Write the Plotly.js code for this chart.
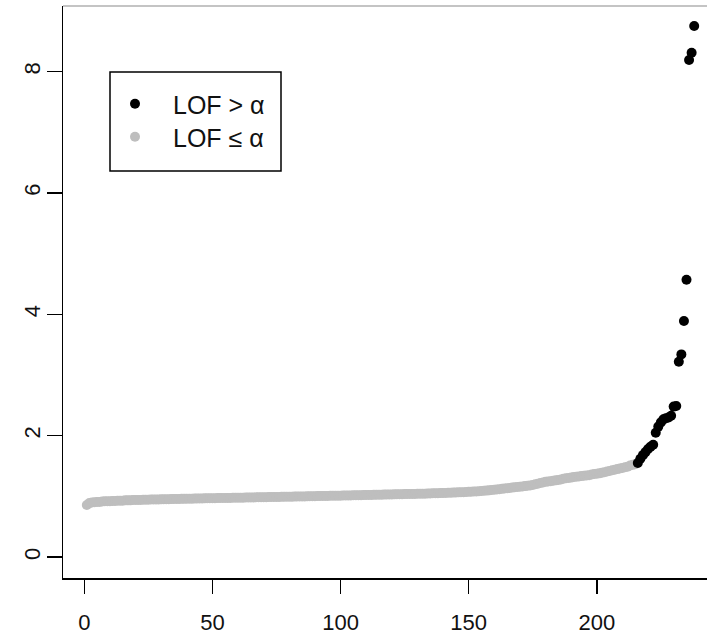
<!DOCTYPE html>
<html><head><meta charset="utf-8">
<script src="https://cdn.plot.ly/plotly-3.0.1.min.js"></script>
<style>html,body{margin:0;padding:0;background:#fff}</style>
</head><body>
<div id="chart" style="width:707px;height:635px"></div>
<script>
// LOF values (sorted), points with LOF <= alpha (gray) and LOF > alpha (black)
const inlierLOF = [
 0.86,0.89,0.90,0.905,0.91,0.91,0.915,0.92,0.92,0.92,
 0.925,0.925,0.93,0.93,0.93,0.935,0.935,0.935,0.94,0.94,
 0.94,0.942,0.944,0.945,0.946,0.948,0.95,0.95,0.951,0.952,
 0.953,0.954,0.955,0.956,0.957,0.958,0.959,0.96,0.96,0.961,
 0.962,0.963,0.964,0.965,0.966,0.967,0.968,0.969,0.97,0.97,
 0.971,0.972,0.973,0.974,0.975,0.975,0.976,0.977,0.978,0.979,
 0.98,0.98,0.981,0.982,0.983,0.984,0.985,0.985,0.986,0.987,
 0.988,0.989,0.99,0.99,0.991,0.992,0.993,0.994,0.995,0.995,
 0.996,0.997,0.998,0.999,1.00,1.00,1.001,1.002,1.003,1.004,
 1.005,1.006,1.007,1.008,1.009,1.01,1.01,1.011,1.012,1.013,
 1.014,1.015,1.016,1.017,1.018,1.019,1.02,1.021,1.022,1.023,
 1.024,1.025,1.026,1.027,1.028,1.029,1.03,1.031,1.032,1.033,
 1.034,1.035,1.036,1.037,1.038,1.039,1.04,1.041,1.042,1.043,
 1.044,1.045,1.046,1.048,1.05,1.051,1.052,1.054,1.055,1.057,
 1.058,1.06,1.062,1.063,1.065,1.067,1.069,1.07,1.072,1.075,
 1.077,1.08,1.083,1.086,1.09,1.093,1.096,1.10,1.105,1.11,
 1.115,1.12,1.125,1.13,1.135,1.14,1.145,1.15,1.155,1.16,
 1.165,1.17,1.175,1.18,1.19,1.20,1.21,1.22,1.23,1.24,
 1.245,1.25,1.26,1.265,1.27,1.28,1.29,1.30,1.305,1.31,
 1.32,1.325,1.33,1.335,1.34,1.345,1.35,1.36,1.37,1.375,
 1.38,1.39,1.40,1.41,1.42,1.43,1.44,1.45,1.46,1.47,
 1.48,1.49,1.51,1.52,1.53
];
const outlierLOF = [
 1.55,1.62,1.68,1.73,1.78,1.82,1.85,2.05,2.15,2.22,
 2.27,2.29,2.30,2.33,2.48,2.49,3.22,3.34,3.89,4.57,
 8.19,8.31,8.75
];
const xTicks = [0,50,100,150,200];
const yTicks = [0,2,4,6,8];
const legendLabels = ['LOF > \u03b1', 'LOF \u2264 \u03b1'];

// observation index (order of sorted LOF values)
const inlierIdx = inlierLOF.map((v,i)=>i+1);
const outlierIdx = outlierLOF.map((v,i)=>inlierLOF.length+i+1);

const W=707,H=635,L=63,R=0,T=6,B=57;
const pw=W-L-R, ph=H-T-B;
const px=(p)=>(p-L)/pw, py=(p)=>(H-B-p)/ph;

const tickFont={family:'"Liberation Sans", Arial, sans-serif', size:22, color:'#111'};
const legFont={family:'"Liberation Sans", Arial, sans-serif', size:25, color:'#111'};

const data=[
 {x:inlierIdx, y:inlierLOF, type:'scatter', mode:'markers', name:legendLabels[1],
  marker:{color:'#bebebe', size:10, line:{width:0}}, legend:'legend2'},
 {x:outlierIdx, y:outlierLOF, type:'scatter', mode:'markers', name:legendLabels[0],
  marker:{color:'#000000', size:10, line:{width:0}}, legend:'legend'}
];

const layout={
 width:W, height:H,
 margin:{l:L,r:R,t:T,b:B,pad:0},
 paper_bgcolor:'#ffffff', plot_bgcolor:'#ffffff',
 font:tickFont,
 xaxis:{range:[-8.3,243.0], tickvals:xTicks, ticktext:xTicks.map(String),
   showgrid:false, zeroline:false, showline:true, linecolor:'#000', linewidth:1.5,
   ticks:'outside', ticklen:14, tickwidth:1.5, tickcolor:'#000', tickfont:tickFont,
   ticklabelstandoff:10},
 yaxis:{range:[-0.344,9.08], tickvals:yTicks, ticktext:yTicks.map(String), tickangle:-90,
   showgrid:false, zeroline:false, showline:true, linecolor:'#000', linewidth:1.5,
   ticks:'outside', ticklen:15, tickwidth:1.5, tickcolor:'#000', tickfont:tickFont,
   ticklabelstandoff:-2},
 showlegend:true,
 legend:{x:px(97), xanchor:'left', y:py(104), yanchor:'middle', font:legFont,
   bgcolor:'rgba(0,0,0,0)', borderwidth:0, itemwidth:66, itemclick:false, itemdoubleclick:false},
 legend2:{x:px(97), xanchor:'left', y:py(137), yanchor:'middle', font:legFont,
   bgcolor:'rgba(0,0,0,0)', borderwidth:0, itemwidth:66, itemclick:false, itemdoubleclick:false},
 shapes:[
  {type:'rect', xref:'paper', yref:'paper', x0:px(110), x1:px(281), y0:py(171), y1:py(72),
   line:{color:'#000', width:1.5}, fillcolor:'rgba(0,0,0,0)'},
  {type:'line', xref:'paper', yref:'paper', x0:0, x1:1, y0:1, y1:1,
   line:{color:'#b0b0b0', width:1.5}}
 ]
};
Plotly.newPlot('chart', data, layout, {displayModeBar:false, staticPlot:true});
</script>
</body></html>
